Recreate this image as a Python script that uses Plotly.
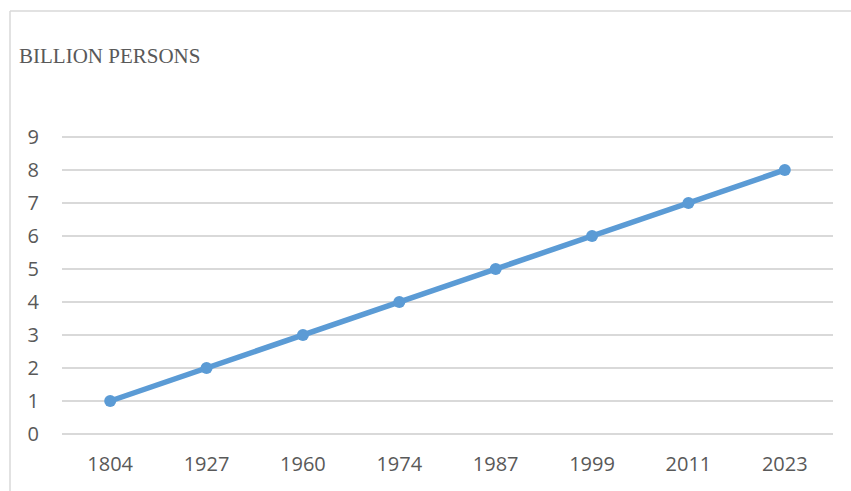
import plotly.graph_objects as go

years = ["1804", "1927", "1960", "1974", "1987", "1999", "2011", "2023"]
population_billions = [1, 2, 3, 4, 5, 6, 7, 8]
y_ticks = [0, 1, 2, 3, 4, 5, 6, 7, 8, 9]

W, H = 851, 491
L, R, B = 62, 18, 57
y_top = 9.15
px_per_unit = (434 - 137) / 9
T = round(137 - (y_top - 9) * px_per_unit)
pw, ph = W - L - R, H - T - B

fig = go.Figure(
    go.Scatter(
        x=years,
        y=population_billions,
        mode="lines+markers",
        line=dict(color="#5B9BD5", width=5.5),
        marker=dict(color="#5B9BD5", size=12),
        cliponaxis=False,
    )
)

grid = "#D9D9D9"
tick_font = dict(family="Open Sans", size=20, color="#595959")

fig.update_layout(
    width=W,
    height=H,
    margin=dict(l=L, r=R, t=T, b=B),
    paper_bgcolor="white",
    plot_bgcolor="white",
    showlegend=False,
    xaxis=dict(
        type="category",
        range=[-0.5, len(years) - 0.5],
        showgrid=False,
        showline=False,
        zeroline=False,
        tickfont=tick_font,
        ticklabelstandoff=16,
        fixedrange=True,
    ),
    yaxis=dict(
        range=[0, y_top],
        tickvals=y_ticks,
        showgrid=True,
        gridcolor=grid,
        gridwidth=1.5,
        zeroline=True,
        zerolinecolor=grid,
        zerolinewidth=1.5,
        showline=False,
        tickfont=tick_font,
        ticklabelstandoff=22,
        fixedrange=True,
    ),
)

# chart frame: left and top edges
fx = (10 - L) / pw
fy = 1 + (T - 11) / ph
fig.add_shape(type="line", xref="paper", yref="paper",
              x0=fx, x1=fx, y0=-0.5, y1=fy, line=dict(color=grid, width=1.5))
fig.add_shape(type="line", xref="paper", yref="paper",
              x0=fx, x1=1.5, y0=fy, y1=fy, line=dict(color=grid, width=1.5))

fig.add_annotation(
    text="BILLION PERSONS",
    xref="paper", yref="paper",
    x=(17 - L) / pw, y=1 + (T - 56) / ph,
    xanchor="left", yanchor="middle",
    showarrow=False,
    font=dict(family="Liberation Serif", size=21, color="#595959"),
)

fig.write_html("out.html")
